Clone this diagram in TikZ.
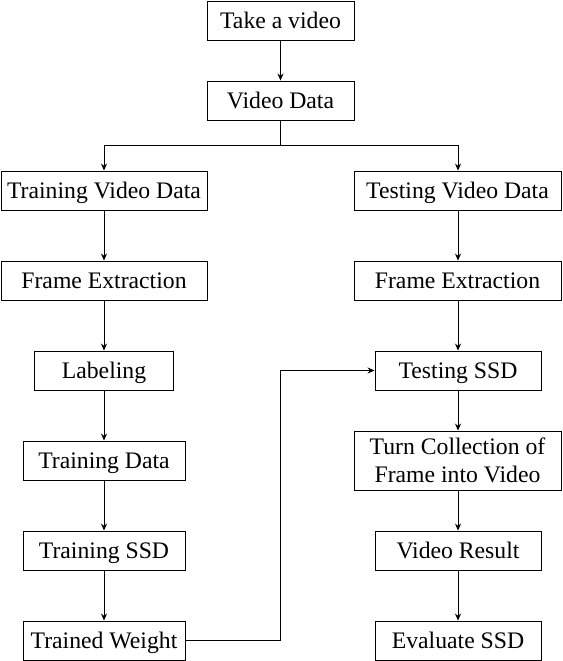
\documentclass[tikz,border=0pt]{standalone}
\usepackage{fontspec}
\setmainfont{Liberation Serif}
\usetikzlibrary{arrows.meta}
\begin{document}
\begin{tikzpicture}[x=1pt,y=-1pt,
  box/.style={draw,line width=0.9pt,rectangle,inner sep=0pt,align=center,
    text height=16pt,text depth=0pt,
    font=\fontsize{23.7}{28}\selectfont},
  conn/.style={line width=0.9pt,-{Stealth[length=7pt,width=6pt]}},
  plain/.style={line width=0.9pt}]
\useasboundingbox (0,0) rectangle (562,661);
\node[box,minimum width=147pt,minimum height=39pt] (take) at (280.5,20.5) {Take a video};
\node[box,minimum width=147pt,minimum height=39pt] (vdata) at (280.5,100.5) {Video Data};
\node[box,minimum width=206pt,minimum height=39pt] (trvd) at (104,190.5) {Training Video Data};
\node[box,minimum width=207pt,minimum height=39pt] (tevd) at (457.5,190.5) {Testing Video Data};
\node[box,minimum width=206pt,minimum height=39pt] (fe1) at (104,280.5) {Frame Extraction};
\node[box,minimum width=207pt,minimum height=39pt] (fe2) at (457.5,280.5) {Frame Extraction};
\node[box,minimum width=139pt,minimum height=39pt] (lab) at (104,370.5) {Labeling};
\node[box,minimum width=166pt,minimum height=39pt] (tssd) at (458,370.5) {Testing SSD};
\node[box,minimum width=162pt,minimum height=39pt] (trd) at (104,460.5) {Training Data};
\node[box,minimum width=207pt,minimum height=59pt,text height=44pt] (turn) at (457.5,460.5) {Turn Collection of\\Frame into Video};
\node[box,minimum width=162pt,minimum height=39pt] (trssd) at (104,550.5) {Training SSD};
\node[box,minimum width=166pt,minimum height=39pt] (vres) at (458,550.5) {Video Result};
\node[box,minimum width=162pt,minimum height=39pt] (trw) at (104,640.5) {Trained Weight};
\node[box,minimum width=166pt,minimum height=39pt] (eval) at (458,640.5) {Evaluate SSD};
\coordinate (split) at (280.5,145);
\coordinate (bend) at (280,640.5);
\draw[conn] (take) -- (vdata);
\draw[plain] (vdata) -- (split);
\draw[conn] (split) -| (trvd);
\draw[conn] (split) -| (tevd.north -| tssd);
\draw[conn] (trvd) -- (fe1);
\draw[conn] (fe1) -- (lab);
\draw[conn] (lab) -- (trd);
\draw[conn] (trd) -- (trssd);
\draw[conn] (trssd) -- (trw);
\draw[conn] (tevd.south -| tssd) -- (fe2.north -| tssd);
\draw[conn] (fe2.south -| tssd) -- (tssd);
\draw[conn] (tssd) -- (turn.north -| tssd);
\draw[conn] (turn.south -| tssd) -- (vres);
\draw[conn] (vres) -- (eval);
\draw[conn] (trw.east) -- (bend) |- (tssd.west);
\end{tikzpicture}
\end{document}
